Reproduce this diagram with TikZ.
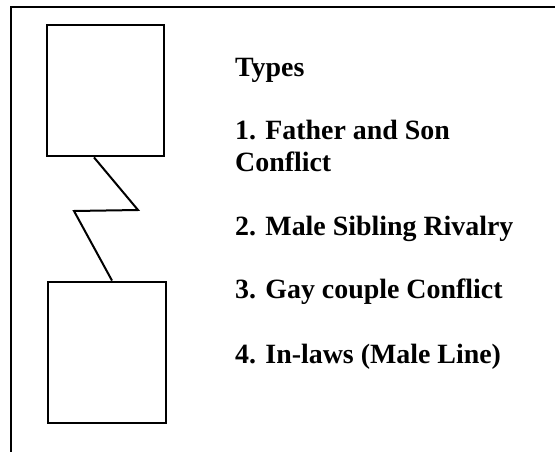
\documentclass[tikz,border=0pt]{standalone}
\usepackage{fontspec}
\setmainfont{Liberation Serif}
\usetikzlibrary{positioning}

\tikzset{
  person/.style={draw, line width=2.8pt, rectangle, inner sep=0pt},
  conflict/.style={line width=2pt, line join=miter},
  label/.style={anchor=base west, inner sep=0pt, align=left,
    font=\bfseries\fontsize{27.9}{32}\selectfont}
}

\begin{document}
\begin{tikzpicture}[x=1pt,y=-1pt]
\useasboundingbox (0,0) rectangle (555,452);
% outer frame (only top and left edges show)
\draw[line width=1.8pt] (11,452) -- (11,7) -- (555,7);

% the two males
\node[person, minimum width=117pt, minimum height=131pt] (top) at (105.5,90.5) {};
\node[person, minimum width=118pt, minimum height=141pt] (bot) at (107,352.5) {};

% zigzag = conflict line
\coordinate (z1) at (138,210);
\coordinate (z2) at (74,211);
\draw[conflict] ([xshift=-11.5pt]top.south) -- (z1) -- (z2) -- ([xshift=5pt]bot.north);

% legend text (base anchor = last line)
\node[label] (types) at (235,76.7) {Types};
\node[label] (t1) at (235,171.7) {1. Father and Son\\Conflict};
\node[label] (t2) at (235,235) {2. Male Sibling Rivalry};
\node[label] (t3) at (235,298) {3. Gay couple Conflict};
\node[label] (t4) at (235,363) {4. In-laws (Male Line)};

\end{tikzpicture}
\end{document}
